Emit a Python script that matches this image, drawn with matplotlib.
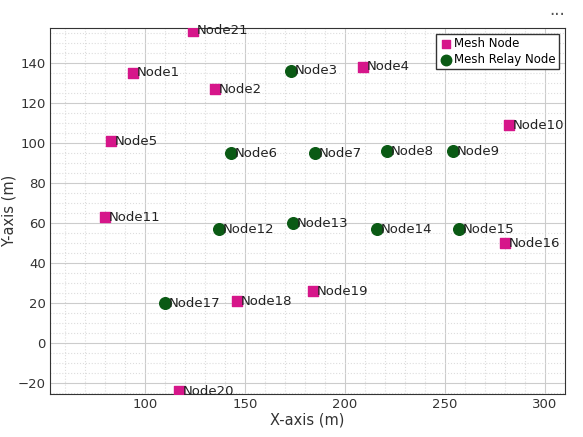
import matplotlib
matplotlib.use("Agg")
import matplotlib.pyplot as plt
from matplotlib.ticker import MultipleLocator

mesh_names = ["Node21","Node1","Node2","Node4","Node10","Node5","Node11","Node16","Node18","Node19","Node20"]
mesh_x = [124, 94, 135, 209, 282, 83, 80, 280, 146, 184, 117]
mesh_y = [156, 135, 127, 138, 109, 101, 63, 50, 21, 26, -24]
relay_names = ["Node3","Node6","Node7","Node8","Node9","Node12","Node13","Node14","Node15","Node17"]
relay_x = [173, 143, 185, 221, 254, 137, 174, 216, 257, 110]
relay_y = [136, 95, 95, 96, 96, 57, 60, 57, 57, 20]

fig = plt.figure(figsize=(5.83, 4.37), dpi=100)
ax = fig.add_axes([0.086, 0.098, 0.883, 0.838])
ax.set_facecolor("white")
ax.scatter(mesh_x, mesh_y, marker="s", s=50, color="#d6168a", label="Mesh Node", zorder=3)
ax.scatter(relay_x, relay_y, marker="o", s=70, color="#0a5a14", label="Mesh Relay Node", zorder=3)
for n, x, y in zip(mesh_names + relay_names, mesh_x + relay_x, mesh_y + relay_y):
    ax.text(x + 2, y, n, fontsize=9.5, va="center", color="#222222", zorder=4)
ax.set_xlim(52.5, 310)
ax.set_ylim(-25.5, 157.5)
ax.xaxis.set_major_locator(MultipleLocator(50))
ax.yaxis.set_major_locator(MultipleLocator(20))
ax.xaxis.set_minor_locator(MultipleLocator(10))
ax.yaxis.set_minor_locator(MultipleLocator(5))
ax.grid(which="major", color="#cccccc", linewidth=0.8)
ax.grid(which="minor", color="#dddddd", linestyle=":", linewidth=0.8)
ax.tick_params(which="both", length=0, labelsize=9.5, colors="#333333", pad=3)
for s in ax.spines.values():
    s.set_color("#333333")
ax.set_xlabel("X-axis (m)", fontsize=10.5, color="#333333", labelpad=1)
ax.set_ylabel("Y-axis (m)", fontsize=10.5, color="#333333", labelpad=1)
leg = ax.legend(loc="upper right", fontsize=8.5, handletextpad=0.2, borderpad=0.3,
                labelspacing=0.2, fancybox=False, framealpha=1, edgecolor="#333333",
                handlelength=1, markerscale=0.9)
fig.text(0.955, 0.955, "···", fontsize=12, ha="center", color="#555555")
fig.savefig("out.png", dpi=100)
